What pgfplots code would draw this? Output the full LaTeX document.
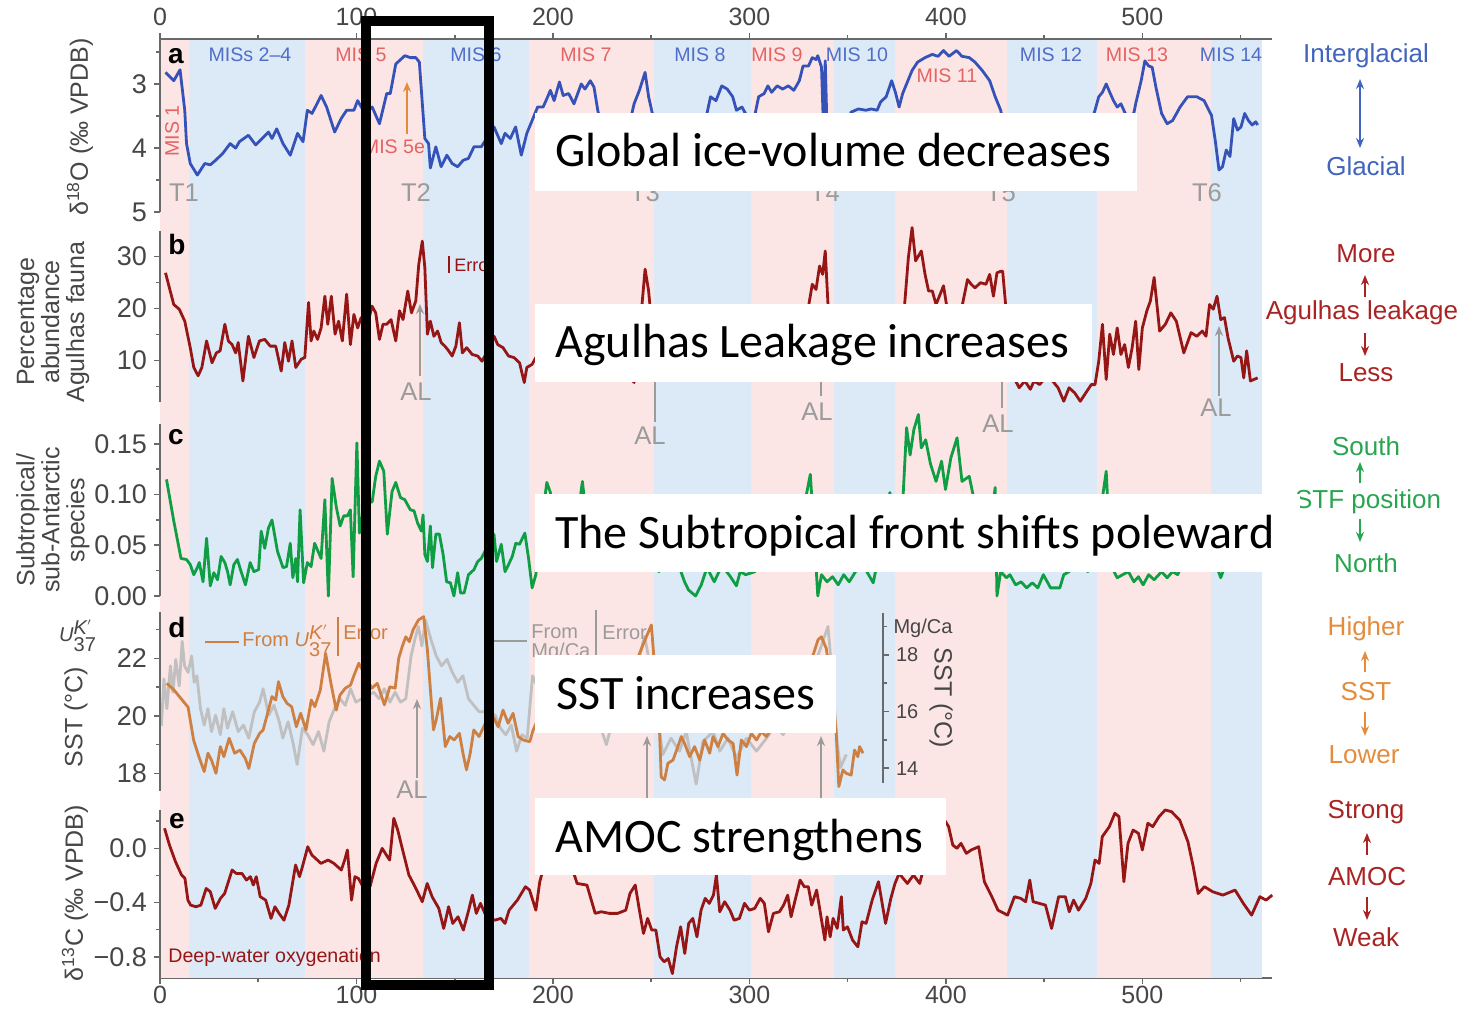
\documentclass[border=0pt]{standalone}
\usepackage{fontspec}
\setmainfont{Liberation Sans}
\newfontfamily\carlito{Carlito}
\usepackage{pgfplots}
\pgfplotsset{compat=1.18}
\usetikzlibrary{arrows.meta}

\definecolor{bandpink}{RGB}{252,229,229}
\definecolor{bandblue}{RGB}{220,233,247}
\definecolor{axgray}{RGB}{105,105,105}
\definecolor{tickgray}{RGB}{70,70,70}
\definecolor{iceblue}{RGB}{52,82,184}
\definecolor{darkred}{RGB}{150,22,22}
\definecolor{stfgreen}{RGB}{16,158,68}
\definecolor{sstorange}{RGB}{205,128,66}
\definecolor{mgcagray}{RGB}{192,192,192}
\definecolor{misblue}{RGB}{80,110,200}
\definecolor{misred}{RGB}{228,100,100}
\definecolor{labgray}{RGB}{155,155,155}
\definecolor{annblue}{RGB}{65,100,190}
\definecolor{annred}{RGB}{170,35,35}
\definecolor{anngreen}{RGB}{40,165,80}
\definecolor{annorange}{RGB}{228,140,60}

\newcommand{\fs}[1]{\fontsize{#1}{#1}\selectfont}

\pgfplotsset{
  panel/.style={
    scale only axis, width=556pt, xmin=0, xmax=566,
    anchor=center, clip=false, no markers,
    hide x axis, axis y line*=left,
    tick align=outside, major tick length=3pt, minor tick length=2pt,
    axis line style={draw=axgray, line width=0.8pt},
    every tick/.style={draw=axgray, line width=0.8pt},
    yticklabel style={font=\fs{13.5}, text=tickgray},
  },
  curve/.style={line width=1.4pt, line join=round},
}

\begin{document}
\begin{tikzpicture}
\useasboundingbox (0,0) rectangle (735pt,504pt);

% ---- background bands + bottom axis
\begin{axis}[scale only axis, width=556pt, height=469.5pt, at={(358pt,249.75pt)}, anchor=center,
  xmin=0, xmax=566, ymin=0, ymax=1, hide y axis, axis x line*=bottom,
  tick align=outside, major tick length=3pt, minor tick length=2pt,
  axis line style={draw=axgray, line width=0.8pt},
  every tick/.style={draw=axgray, line width=0.8pt},
  xtick={0,100,200,300,400,500}, xticklabels={0,100,200,300,400,500},
  minor xtick={50,150,250,350,450,550},
  xticklabel style={font=\fs{12.5}, text=tickgray, yshift=2.5pt}]
\addplot[fill=bandpink, draw=none] coordinates {(0,0) (0,1) (15,1) (15,0)};
\addplot[fill=bandblue, draw=none] coordinates {(15,0) (15,1) (74,1) (74,0)};
\addplot[fill=bandpink, draw=none] coordinates {(74,0) (74,1) (134,1) (134,0)};
\addplot[fill=bandblue, draw=none] coordinates {(134,0) (134,1) (188,1) (188,0)};
\addplot[fill=bandpink, draw=none] coordinates {(188,0) (188,1) (251.5,1) (251.5,0)};
\addplot[fill=bandblue, draw=none] coordinates {(251.5,0) (251.5,1) (301,1) (301,0)};
\addplot[fill=bandpink, draw=none] coordinates {(301,0) (301,1) (343,1) (343,0)};
\addplot[fill=bandblue, draw=none] coordinates {(343,0) (343,1) (374,1) (374,0)};
\addplot[fill=bandpink, draw=none] coordinates {(374,0) (374,1) (431,1) (431,0)};
\addplot[fill=bandblue, draw=none] coordinates {(431,0) (431,1) (477,1) (477,0)};
\addplot[fill=bandpink, draw=none] coordinates {(477,0) (477,1) (535,1) (535,0)};
\addplot[fill=bandblue, draw=none] coordinates {(535,0) (535,1) (561,1) (561,0)};
\end{axis}

% ---- top axis
\begin{axis}[scale only axis, width=556pt, height=469.5pt, at={(358pt,249.75pt)}, anchor=center,
  xmin=0, xmax=566, ymin=0, ymax=1, hide y axis, axis x line*=top,
  tick align=outside, major tick length=3pt, minor tick length=2pt,
  axis line style={draw=axgray, line width=0.8pt},
  every tick/.style={draw=axgray, line width=0.8pt},
  xtick={0,100,200,300,400,500}, xticklabels={0,100,200,300,400,500},
  minor xtick={50,150,250,350,450,550},
  xticklabel style={font=\fs{12.5}, text=tickgray}]
\end{axis}

% ---- annotations under the curves (pixel coordinates)
\begin{scope}[x=0.5pt, y=-0.5pt, yshift=504pt]
\begin{scope}[font=\fs{9.8}]
\node[misblue] at (250,55) {MISs 2–4};
\node[misred] at (361,55) {MIS 5};
\node[misblue] at (476,55) {MIS 6};
\node[misred] at (586,55) {MIS 7};
\node[misblue] at (700,55) {MIS 8};
\node[misred] at (777,55) {MIS 9};
\node[misblue] at (857,55) {MIS 10};
\node[misred] at (947,76) {MIS 11};
\node[misblue] at (1051,55) {MIS 12};
\node[misred] at (1137,55) {MIS 13};
\node[misblue] at (1231,55) {MIS 14};
\node[misred, rotate=90] at (172,131) {MIS 1};
\node[misred] at (394,147) {MIS 5e};
\end{scope}
\draw[annorange, line width=0.8pt, -{Stealth[length=5pt,width=4pt]}] (407,134) -- (407,82);
\begin{scope}[font=\fs{12.8}, labgray]
\node at (184,193) {T1};
\node at (416,193) {T2};
\node at (645,193) {T3};
\node at (825,193) {T4};
\node at (1001,193) {T5};
\node at (1207,193) {T6};
\node at (416,392) {AL};
\node at (650,436) {AL};
\node at (817,412) {AL};
\node at (998,424) {AL};
\node at (1216,408) {AL};
\node at (412,790) {AL};
\end{scope}
\begin{scope}[labgray, line width=1pt]
\draw[-{Stealth[length=5pt,width=4pt]}] (420,376) -- (420,304);
\draw (655,382) -- (655,422);
\draw (821,382) -- (821,396);
\draw (1002,372) -- (1002,408);
\draw[-{Stealth[length=5pt,width=4pt]}] (1219,396) -- (1219,326);
\draw[-{Stealth[length=5pt,width=4pt]}] (417,778) -- (417,699);
\draw[-{Stealth[length=5pt,width=4pt]}] (647,800) -- (647,736);
\draw[-{Stealth[length=5pt,width=4pt]}] (821,800) -- (821,736);
\end{scope}
\end{scope}

% ---- a: delta 18O
\begin{axis}[panel, at={(358pt,441.175pt)}, height=86.65pt, y dir=reverse,
  ymin=2.3, ymax=5.0, ytick={3,4,5}, minor ytick={2.5,3.5,4.5}, yticklabels={3,4,5}]
\addplot[curve, iceblue] coordinates {
(2.8,2.82) (7,2.95) (10.2,2.78) (12.6,3.41) (13.5,3.93) (15.4,4.24) (19,4.42) (22.8,4.24) (25.6,4.26) (28.3,4.19)
(32,4.08) (35.7,3.93) (38.5,4.0) (40.4,3.9) (45,3.8) (48.7,3.95) (55.2,3.75) (57,3.85) (59.4,3.7) (62.6,3.93)
(66.3,4.11) (70,3.77) (72.8,3.9) (75,3.41) (77.4,3.46) (82,3.18) (84.8,3.36) (88.9,3.75) (92.2,3.54) (95,3.41)
(98.7,3.41) (100.6,3.26) (104.3,3.46) (108,3.36) (111.7,3.62) (115.4,3.15) (117.2,3.15) (120,2.69) (124.6,2.56)
(127.4,2.59) (130.2,2.59) (132,2.66) (134.8,3.85) (136.7,3.93) (137.6,4.31) (140.4,3.98) (143.1,4.29) (146,4.11)
(148.7,4.24) (151.5,4.29) (154.3,4.19) (157,4.16) (159.8,3.98) (163.5,3.98) (168,3.77) (170,3.67) (173.7,3.93)
(175.6,3.77) (178.3,3.85) (181,3.67) (183.9,4.11) (186.7,3.77) (189.4,3.57) (192.2,3.36) (195,3.36) (196.9,3.23)
(198.7,3.1) (200.6,3.26) (203.3,2.97) (205.2,3.18) (208,3.15) (210.7,3.31) (214.4,3.0) (216.3,3.08) (219,2.95)
(220.9,3.05) (222.8,3.41) (226,3.8) (230,4.05) (234,3.95) (238,3.75) (241.3,3.31) (244,3.1) (246.9,2.82)
(248.7,3.2) (250.6,3.46) (254,3.9) (258,4.1) (263,4.0) (268,4.15) (273,3.9) (278.4,3.46) (280.2,3.2) (283,3.26)
(285.9,3.03) (288.7,3.08) (291.5,3.2) (293.4,3.41) (296.2,3.36) (298,3.46) (300,3.7) (302,3.6) (304.7,3.2)
(307.5,3.15) (309.4,3.03) (311.3,3.13) (314.1,3.03) (316.9,3.08) (319.8,3.03) (322.6,3.1) (325.4,2.95)
(327.3,2.72) (330.1,2.72) (332,2.59) (333.9,2.62) (334.8,2.56) (336.7,2.74) (337.6,3.6) (338.6,2.64) (339.5,3.7)
(342,4.0) (345,4.2) (348,4.0) (351.7,3.44) (355.5,3.39) (359.3,3.41) (362,3.39) (365,3.41) (366.8,3.28)
(369.6,3.2) (371.5,3.03) (372.4,2.95) (374.3,3.13) (376.2,3.36) (378,3.15) (380,3.0) (382.8,2.79) (385.6,2.66)
(389.4,2.59) (393.1,2.54) (396,2.57) (398.8,2.48) (401.6,2.57) (405.4,2.48) (408.2,2.57) (411.9,2.59)
(414.8,2.66) (418.5,2.79) (422.3,2.95) (425.1,3.2) (427.9,3.41) (431,3.9) (436,4.2) (442,4.35) (448,4.3)
(455,4.4) (462,4.25) (468,4.1) (472,3.8) (475.9,3.41) (477.8,3.2) (479.7,3.13) (481.6,3.0) (483.4,3.13)
(485.3,3.26) (487.2,3.36) (489.1,3.31) (491,3.44) (493,3.55) (495.7,3.45) (496.6,3.31) (499.4,2.95) (501.3,2.64)
(503.2,2.72) (505,2.74) (506.9,3.05) (509.8,3.46) (512.6,3.62) (515.4,3.57) (519.2,3.36) (523,3.2) (527.7,3.2)
(531.4,3.26) (535.2,3.49) (537.1,3.88) (539,4.34) (540.8,4.29) (542.7,4.03) (544.6,4.13) (546.5,3.54)
(548.4,3.72) (550.2,3.67) (552.1,3.46) (554,3.57) (555.9,3.64) (557.7,3.59) (558.7,3.64)
};
\end{axis}

% ---- b: Agulhas fauna
\begin{axis}[panel, at={(358pt,345.75pt)}, height=85.8pt,
  ymin=2, ymax=35, ytick={10,20,30}, minor ytick={5,15,25}, yticklabels={10,20,30}]
\addplot[curve, darkred] coordinates {
(2.8,26.9) (7,20.8) (9.8,19.9) (12.6,17.6) (15.4,12.5) (17.2,8.7) (19.4,7.1) (21.3,8.7) (23.7,13.8) (26.5,9.6)
(28.7,11.5) (30.6,11.9) (33,17.0) (34.8,13.8) (36.7,13.1) (38.5,11.5) (39.8,13.5) (42.2,6.1) (45,14.7) (47.8,10.6)
(50.6,13.8) (53.3,14.1) (56.1,12.8) (58.9,12.8) (61.7,8.0) (63.5,13.5) (65.4,9.9) (67.2,13.8) (69.1,8.7)
(71.9,10.3) (73.7,10.6) (75.6,21.2) (76.9,13.8) (78.3,15.7) (80.2,14.1) (82,16.3) (83.9,22.4) (85.4,17.0)
(87.2,22.4) (89.1,15.1) (90.9,17.6) (92.8,13.8) (95,22.8) (96.9,13.1) (98.7,18.9) (100.6,16.3) (102.4,18.3)
(105,16) (107.9,20.5) (109.8,19.2) (111.7,14.1) (113.5,17.0) (115.4,17.0) (117.6,17.9) (120,13.8) (121.9,19.6)
(123.7,17.9) (126.1,23.4) (128,19.2) (130.2,21.5) (131.7,28.5) (133.5,33.0) (134.8,27.9) (136.1,15.1)
(137.6,17.6) (139.4,14.7) (141.3,15.7) (143.1,13.5) (145,12.8) (146.9,11.9) (148.7,10.9) (150.6,12.8)
(152.4,17.3) (153.9,11.5) (156.1,12.5) (158.9,11.2) (161.7,10.9) (163.9,9.9) (167,12) (170,14.7) (171.9,13.1)
(174.6,12.5) (177.4,10.9) (180.2,10.6) (183,9.6) (185.4,5.8) (186.7,8.7) (189.4,9.3) (191.3,10.6) (196,12)
(202,11) (208,13) (215,10) (222,12) (230,9) (237,8) (241.3,5.8) (244,15) (246.9,27.6) (248.7,23.4) (251,14)
(256,11) (262,12) (266,17) (270,11) (276,13) (282,10) (288,12) (294,11) (300,13) (306,10) (312,12) (318,11)
(324,14) (329,18) (332,24.7) (333.9,23.7) (335.7,28.2) (337.3,26.6) (338.6,31.1) (340,20.8) (343,12) (348,10)
(354,12) (360,10) (366,13) (372,12) (376,16) (379,20.8) (380.9,29.8) (382.8,35.6) (384.6,29.2) (387.5,31.1)
(389.4,26.6) (391.2,23.4) (393.1,23.4) (395,20.8) (398.8,24.4) (400.3,20.8) (404,18) (408,20) (411,25.6)
(412.9,24.7) (414.8,24.0) (417.6,25.0) (420.4,24.7) (422.3,26.6) (424.2,22.4) (426,26.9) (427.9,27.2)
(428.9,27.2) (430.4,20.8) (432.5,12) (435.5,6.1) (437.3,4.8) (440.2,6.1) (443,4.5) (444.9,6.1) (447.7,5.4)
(450.5,6.7) (454.3,6.1) (457.1,4.8) (460,2.2) (462.7,4.8) (465.6,3.8) (468.4,2.2) (471.2,3.8) (474,5.4)
(475.9,5.4) (477.8,9.9) (479.7,17.0) (481.6,6.4) (483.4,15.1) (485.3,11.2) (487.2,16.3) (489.1,11.2) (491,13.1)
(492.9,8.7) (494.8,12.5) (496.6,17.6) (498.2,8.3) (500,16.3) (502.3,19.6) (504.1,21.5) (506,26.0) (508.8,15.7)
(511.7,17.0) (514.5,19.2) (517.3,17.6) (521.1,11.5) (524.8,15.4) (527.7,14.7) (530.5,15.7) (532.4,14.7)
(534.2,20.8) (536.1,19.9) (538,22.4) (539.9,17.9) (541.8,18.3) (543.6,14.4) (546.5,9.9) (548.4,10.9)
(550.2,10.6) (551.6,6.7) (553.1,11.9) (555,6.1) (558.7,6.7)
};
\end{axis}

% ---- c: subtropical / sub-Antarctic
\begin{axis}[panel, at={(358pt,249.1pt)}, height=86.2pt,
  ymin=0, ymax=0.17, ytick={0,0.05,0.1,0.15}, minor ytick={0.025,0.075,0.125},
  yticklabels={0.00,0.05,0.10,0.15}]
\addplot[curve, stfgreen] coordinates {
(3.3,0.115) (7,0.074) (10.7,0.037) (13.5,0.036) (15.4,0.031) (17.2,0.021) (19,0.028) (20,0.033) (21.9,0.014)
(23.7,0.057) (25.6,0.010) (27.4,0.023) (29.3,0.016) (31.1,0.039) (33,0.033) (34.4,0.024) (35.7,0.011)
(37.6,0.031) (39.4,0.036) (41.3,0.024) (43.5,0.011) (45.9,0.033) (47.8,0.024) (50.2,0.026) (51.5,0.064)
(53.3,0.047) (55.2,0.067) (57,0.075) (59.8,0.044) (62.6,0.028) (64.4,0.029) (66.3,0.052) (67.6,0.018)
(69.1,0.037) (70,0.014) (71.3,0.085) (73.1,0.013) (75,0.033) (76.9,0.029) (78.7,0.052) (82,0.037) (83.9,0.095)
(85.7,0.0) (87.6,0.116) (89.8,0.087) (91.7,0.069) (93.5,0.079) (95.4,0.079) (96.9,0.085) (98.3,0.019)
(100.2,0.151) (101.5,0.062) (104,0.09) (108,0.093) (109.8,0.118) (111.7,0.133) (113.9,0.123) (115.7,0.061)
(118.1,0.103) (120,0.112) (122.4,0.097) (124.6,0.095) (127.4,0.085) (129.3,0.084) (131.1,0.072) (133,0.064)
(133.9,0.080) (134.8,0.041) (136.1,0.034) (137.6,0.069) (138.7,0.028) (140.4,0.061) (142.2,0.061)
(144.1,0.041) (145.9,0.014) (147.8,0.013) (149.6,0.0) (151.5,0.023) (153,0.003) (154.8,0.003) (157,0.021)
(159.8,0.026) (161.7,0.034) (163.5,0.037) (167,0.05) (170,0.061) (171.3,0.034) (173.7,0.051) (175.6,0.024)
(177.4,0.031) (179.3,0.039) (181.1,0.052) (183,0.051) (185.7,0.062) (187.6,0.037) (189.4,0.008) (191.3,0.021)
(194,0.07) (196.9,0.112) (198.7,0.102) (202,0.06) (207,0.04) (212,0.07) (215,0.113) (218,0.06) (224,0.04)
(230,0.05) (236,0.03) (242,0.06) (248,0.04) (254,0.024) (260,0.05) (264,0.03) (267,0.014) (269,0.006)
(272.6,0.0) (275.5,0.011) (278.4,0.028) (282.1,0.014) (286,0.03) (290,0.02) (293.4,0.010) (295.3,0.024)
(298.1,0.021) (302.8,0.024) (308,0.04) (314,0.03) (320,0.05) (326,0.07) (331,0.120) (333,0.06) (334.8,0.0)
(336.7,0.021) (339.5,0.014) (342.3,0.019) (345.2,0.011) (348,0.021) (350.8,0.014) (354,0.024) (358,0.03)
(363,0.013) (368,0.06) (371.5,0.102) (375.3,0.05) (378,0.09) (380,0.166) (381.8,0.139) (383.7,0.164)
(386,0.179) (387.5,0.146) (389.7,0.154) (392.2,0.130) (395,0.113) (397.8,0.133) (399.8,0.105) (402.5,0.136)
(405.7,0.156) (408.2,0.113) (411.9,0.118) (413.8,0.100) (418,0.07) (422,0.06) (425.1,0.107) (426,0.0)
(427.9,0.024) (430.8,0.018) (432.6,0.021) (435.5,0.011) (438.3,0.014) (441.1,0.008) (444,0.013) (446.8,0.008)
(449.6,0.021) (453.3,0.008) (458,0.008) (460,0.021) (462.7,0.024) (467,0.04) (472.2,0.024) (477,0.06)
(481.6,0.123) (484,0.03) (487.2,0.018) (490,0.021) (492.9,0.024) (495.7,0.014) (498,0.019) (500.4,0.011)
(503.2,0.021) (506,0.016) (509.8,0.024) (512.6,0.018) (515.4,0.024) (518,0.021) (522,0.04) (528,0.03)
(534,0.05) (539.9,0.018) (541,0.024)
};
\end{axis}

% ---- d: SST from Mg/Ca (grey, right scale)
\begin{axis}[scale only axis, width=556pt, height=89.15pt, at={(358pt,153.275pt)}, anchor=center,
  xmin=0, xmax=566, ymin=13.21, ymax=19.50, hide x axis, hide y axis, clip=false, no markers]
\addplot[line width=1.4pt, line join=round, mgcagray] coordinates {
(0.7,15.5) (2,17.15) (3.5,16.1) (5.3,17.61) (6.6,16.68) (8,17.84) (9.8,16.9) (11.3,18.48) (12.5,17.61)
(14.3,17.38) (16.1,17.96) (17.4,17.03) (18.8,17.26) (20.6,16.1) (22.5,15.52) (24.4,16.1) (26.2,15.29)
(28.3,15.87) (30.7,15.18) (32.5,16.1) (34.3,15.41) (37,15.99) (39.8,15.29) (42.5,15.52) (45.2,15.06)
(48,15.99) (50.7,16.33) (52.5,16.8) (55.3,15.87) (58,16.22) (60.7,15.64) (62.5,15.06) (65.2,15.64)
(67.9,14.83) (69.8,14.13) (72.5,15.41) (75.2,15.18) (77.9,14.83) (80.7,15.29) (83.4,14.6) (86.1,15.64)
(88.8,16.1) (91.6,16.45) (94.3,16.22) (97,16.8) (99.7,16.33) (104,16.5) (108.8,16.68) (111.5,16.45)
(114.2,16.8) (117,16.33) (119.7,16.68) (122.4,16.33) (125.1,16.45) (127.8,17.96) (129.7,18.54) (131.5,19.0)
(133.3,18.31) (135.1,19.23) (137.9,18.54) (140.6,17.96) (143.3,17.61) (146.1,17.84) (148.8,17.38)
(151.5,17.03) (154.2,17.26) (157,16.45) (159.7,16.22) (162.4,15.99) (166,16.0) (170.6,15.87) (173.3,15.41)
(176,15.18) (178.8,15.52) (181.5,14.6) (184.2,15.18) (186.9,15.06) (189.6,17.26) (195,16.4) (202,15.9)
(210,16.5) (218,15.9) (224,15.5) (227.2,14.83) (232,16.1) (240,16.9) (246.7,18.65) (250,17.4) (255.9,14.48)
(260.1,15.06) (264.4,14.6) (267.8,15.29) (272.9,13.44) (276.3,14.94) (281.5,15.29) (284.9,14.6) (289.1,15.06)
(293.4,14.36) (298.5,15.06) (303.6,14.6) (308.7,15.06) (313,15.5) (317.2,15.18) (324,16.4) (332,17.4)
(340,19.0) (342,17.4) (344.6,14.94) (346.3,14.02) (349.3,14.48)
};
\end{axis}

% ---- d: SST from UK'37 (orange, left scale)
\begin{axis}[panel, at={(358pt,153.275pt)}, height=89.15pt,
  ymin=17.4, ymax=23.6, ytick={18,20,22}, minor ytick={19,21,23}, yticklabels={18,20,22}]
\addplot[curve, sstorange] coordinates {
(3.5,21.13) (7.1,20.9) (10.7,20.6) (14.3,20.3) (17.1,19.16) (19.8,18.58) (22.5,18.06) (24.4,18.7) (26.2,18.46)
(28.5,18.0) (30.7,18.93) (32.5,18.58) (35.2,19.22) (38,18.7) (40.7,18.81) (43.4,18.52) (45.2,18.17) (48,19.04)
(50.7,19.39) (52.5,19.51) (54.3,19.97) (57,20.67) (58.9,20.55) (60.3,21.19) (62.5,20.67) (64.7,20.43)
(67,20.32) (69.4,19.62) (71.6,20.09) (74.3,19.51) (77,20.55) (78.8,20.32) (81.6,20.9) (84.3,22.17) (87,21.13)
(89.7,20.2) (91.6,20.72) (94.3,20.96) (97,21.07) (98.8,21.42) (101.2,21.83) (104.5,21.4) (107.8,20.96)
(110.6,21.13) (114.2,20.38) (117,21.01) (119.7,20.96) (121.5,22.0) (123.3,22.41) (125.1,22.75) (126.9,22.58)
(128.8,22.99) (131.5,23.33) (134.2,23.45) (136.1,22.29) (137.9,20.67) (139.2,19.51) (140.6,19.86)
(142.8,20.61) (145.2,18.93) (147.5,19.28) (149.7,19.16) (152.4,19.39) (154.2,18.7) (156,18.12) (157.9,18.7)
(159.7,19.51) (162.4,19.28) (166,19.8) (169.5,19.97) (172.1,19.62) (174.6,20.2) (177.2,19.74) (179.7,20.09)
(182.3,19.28) (184.8,19.16) (188.2,19.1) (189.9,19.5) (195,20.3) (200,20.8) (206,20.2) (212,20.9) (218,20.4)
(224,21.0) (230,20.6) (236,21.3) (242,21.8) (246,22.5) (250.1,23.16) (252,21.5) (254.3,19.39) (255.1,17.88)
(256.8,17.77) (258.5,18.35) (261.1,18.46) (263.6,18.93) (265.3,19.28) (267,19.04) (269.6,18.58) (272.1,18.93)
(274.7,18.46) (277.2,19.16) (279.8,18.7) (281.5,19.28) (284,18.93) (286.6,19.39) (289.1,19.16) (291.7,19.04)
(293.7,17.94) (295.9,19.16) (298.5,18.93) (301,19.39) (303.6,19.16) (306.1,19.45) (308.7,19.28) (313,19.8)
(318,20.4) (324,20.9) (330,21.6) (334.9,22.64) (336.6,22.75) (339.1,22.35) (342,21) (344.2,19.39)
(345.5,17.54) (347.6,18.12) (349.3,18.0) (351.8,17.94) (353.5,18.81) (355.2,18.58) (356.1,18.93) (357.8,18.7)
};
\end{axis}

% ---- d: Mg/Ca scale drawn inside the panel
\begin{axis}[scale only axis, width=2pt, height=85pt, at={(440.5pt,155pt)}, anchor=center,
  xmin=0, xmax=1, ymin=13.48, ymax=19.48, hide x axis, axis y line*=right,
  tick align=outside, major tick length=3pt, minor tick length=2pt,
  axis line style={draw=axgray, line width=0.8pt},
  every tick/.style={draw=axgray, line width=0.8pt},
  ytick={14,16,18}, minor ytick={15,17,19}, yticklabels={14,16,18},
  yticklabel style={font=\fs{10}, text=tickgray}]
\end{axis}

% ---- e: delta 13C
\begin{axis}[panel, at={(358pt,56.725pt)}, height=84.15pt,
  ymin=-0.962, ymax=0.28, ytick={-0.8,-0.4,0}, minor ytick={-0.6,-0.2,0.2},
  yticklabels={−0.8,−0.4,0.0}]
\addplot[curve, darkred] coordinates {
(2.3,0.148) (4.8,0.025) (7.9,-0.099) (11,-0.197) (12.7,-0.222) (14.2,-0.382) (15.6,-0.419) (18.3,-0.431)
(20.8,-0.419) (23.5,-0.296) (25.6,-0.32) (28.1,-0.443) (30.8,-0.369) (32.9,-0.333) (36.7,-0.16) (38.8,-0.185)
(41.7,-0.185) (44,-0.234) (46,-0.209) (47.5,-0.271) (49,-0.209) (51,-0.357) (53.8,-0.382) (56.5,-0.517)
(58.5,-0.431) (60.6,-0.48) (63.1,-0.53) (65.6,-0.419) (69,-0.123) (71,-0.209) (72.5,-0.135) (75.2,0.012)
(77.3,-0.049) (81.9,-0.111) (85.6,-0.086) (88.5,-0.111) (92.3,-0.16) (94,-0.086) (95.4,-0.012) (97.5,-0.382)
(99.2,-0.209) (101,-0.222) (104,-0.3) (106.9,-0.283) (110,-0.111) (113.1,0.0) (115.2,-0.049) (116.9,-0.086)
(119,0.222) (121,0.135) (123.5,-0.012) (126.7,-0.197) (129.8,-0.283) (133.5,-0.394) (136,-0.259)
(138.5,-0.357) (141.9,-0.443) (144.4,-0.591) (146.9,-0.431) (149,-0.554) (151.7,-0.505) (154.4,-0.603)
(156.9,-0.468) (159,-0.345) (161,-0.48) (163.1,-0.406) (166,-0.5) (170.4,-0.53) (173.5,-0.517) (175.6,-0.554)
(177.7,-0.456) (181.9,-0.382) (186,-0.283) (188.1,-0.308) (191.3,-0.456) (193.3,-0.246) (195.4,-0.135)
(199,0.05) (203,0.1) (206,0.0) (209,-0.111) (212.3,-0.259) (217.3,-0.271) (221.5,-0.48) (224.6,-0.468)
(228.8,-0.48) (232.9,-0.48) (237.1,-0.456) (239.2,-0.333) (241.9,-0.271) (244,-0.456) (246.1,-0.628)
(248.2,-0.517) (250.3,-0.603) (252.4,-0.603) (254.5,-0.8) (256.6,-0.837) (258.7,-0.813) (260.8,-0.924)
(262.9,-0.727) (265,-0.579) (267.1,-0.776) (269.1,-0.554) (271.2,-0.517) (273.3,-0.653) (275.4,-0.456)
(277.5,-0.369) (279.6,-0.406) (281.7,-0.345) (283.2,-0.197) (284.9,-0.468) (287.4,-0.394) (290.1,-0.456)
(292.2,-0.53) (294.9,-0.517) (297.5,-0.406) (300,-0.456) (302.7,-0.443) (305.5,-0.369) (307.6,-0.406)
(309.7,-0.616) (312.2,-0.48) (315.3,-0.468) (317.4,-0.419) (319.5,-0.345) (321.2,-0.505) (323.7,-0.357)
(325.8,-0.234) (327.9,-0.283) (330,-0.283) (331.7,-0.419) (334.2,-0.308) (336.3,-0.493) (338.4,-0.677)
(339.5,-0.505) (341.1,-0.653) (342.6,-0.517) (344.7,-0.591) (346.8,-0.357) (347.8,-0.603) (349.9,-0.579)
(352.5,-0.677) (355.2,-0.727) (357.3,-0.542) (359.4,-0.554) (362.5,-0.382) (365.7,-0.246) (369.3,-0.554)
(372,-0.369) (374.1,-0.259) (376.2,-0.185) (380.4,-0.259) (383.5,-0.197) (386.7,-0.259) (388.8,-0.135)
(393,0.0) (396,0.1) (399.3,0.209) (401.4,0.16) (403.5,0.025) (405.6,0.0) (407.7,0.037) (410.4,-0.037)
(412.9,-0.012) (416.7,0.012) (419.6,-0.246) (423.4,-0.357) (426.5,-0.456) (431.4,-0.493) (434.9,-0.357)
(438.1,-0.369) (440.6,-0.394) (442.7,-0.234) (444.4,-0.394) (447.5,-0.406) (450.7,-0.419) (453.8,-0.591)
(457.4,-0.357) (460.8,-0.357) (462.8,-0.468) (465,-0.382) (467.5,-0.456) (471.2,-0.369) (473.8,-0.259)
(475.9,-0.086) (478,-0.111) (479.6,0.086) (483.2,0.16) (486,0.259) (488.1,0.234) (490.6,-0.246) (492.7,0.037)
(495.3,0.135) (498,0.111) (500,-0.012) (502.8,0.185) (505.3,0.16) (508.5,0.234) (511.6,0.283) (514.8,0.271)
(519,0.209) (523.2,0.049) (525.9,-0.135) (528.4,-0.333) (531.6,-0.283) (535.8,-0.32) (541,-0.345)
(547.2,-0.308) (551.4,-0.406) (555.6,-0.493) (559.8,-0.357) (563,-0.382) (566.1,-0.345)
};
\end{axis}

% ---- labels, legends, overlay boxes (pixel coordinates)
\begin{scope}[x=0.5pt, y=-0.5pt, yshift=504pt]
% panel letters
\begin{scope}[font=\bfseries\fs{14}]
\node at (176,56) {a};
\node at (177,244) {b};
\node at (176,437) {c};
\node at (177,627) {d};
\node at (177,821) {e};
\end{scope}
% y-axis titles
\begin{scope}[font=\fs{12.5}, text=tickgray]
\node[rotate=90] at (80,127) {δ\textsuperscript{18}O (‰ VPDB)};
\node[rotate=90, align=center, text width=200pt] at (53,322) {Percentage\\abundance\\Agulhas fauna};
\node[rotate=90, align=center, text width=200pt] at (53,520) {Subtropical/\\sub-Antarctic\\species};
\node[rotate=90] at (76,717) {SST (°C)};
\node[rotate=90] at (75,893) {δ\textsuperscript{13}C (‰ VPDB)};
\node[font=\fs{10}] at (78,636) {\textit{U}$^{\textit{K}'}_{\textrm{37}}$};
\end{scope}
% panel b error
\draw[darkred, line width=0.9pt] (449,256) -- (449,273);
\node[darkred, font=\fs{9}, anchor=west, inner sep=0] at (454,265) {Error};
% panel d legend
\draw[sstorange, line width=1pt] (205,642) -- (239,642);
\node[sstorange, font=\fs{10}, anchor=west, inner sep=0] at (242,641) {From \textit{U}$^{\textit{K}'}_{\textrm{37}}$};
\draw[sstorange, line width=1pt] (338,617) -- (338,656);
\node[sstorange, font=\fs{10}, anchor=west, inner sep=0] at (343,633) {Error};
\draw[labgray, line width=1pt] (494,641) -- (527,641);
\node[labgray, font=\fs{10}, anchor=west, inner sep=0] at (531,632) {From};
\node[labgray, font=\fs{10}, anchor=west, inner sep=0] at (531,652) {Mg/Ca};
\draw[labgray, line width=1pt] (596,610) -- (596,658);
\node[labgray, font=\fs{10}, anchor=west, inner sep=0] at (602,633) {Error};
\node[tickgray, font=\fs{10}] at (923,628) {Mg/Ca};
\node[tickgray, font=\fs{12.5}, rotate=-90] at (941,698) {SST (°C)};
% panel e label
\node[darkred, font=\fs{9.8}, anchor=west, inner sep=0] at (168,957) {Deep-water oxygenation};
% right-hand annotations
\begin{scope}[font=\fs{13}]
\node[annblue] at (1366,56) {Interglacial};
\node[annblue] at (1366,166) {Glacial};
\node[annred] at (1366,254) {More};
\node[annred] at (1362,313) {Agulhas leakage};
\node[annred] at (1366,373) {Less};
\node[anngreen] at (1366,446) {South};
\node[anngreen] at (1368,502) {STF position};
\node[anngreen] at (1366,563) {North};
\node[annorange] at (1366,629) {Higher};
\node[annorange] at (1366,692) {SST};
\node[annorange] at (1364,755) {Lower};
\node[annred] at (1366,812) {Strong};
\node[annred] at (1367,877) {AMOC};
\node[annred] at (1366,937) {Weak};
\end{scope}
\begin{scope}[line width=0.8pt]
\draw[annblue, {Stealth[length=5pt,width=4pt]}-{Stealth[length=5pt,width=4pt]}] (1360,79) -- (1360,148);
\draw[annred, -{Stealth[length=5pt,width=4pt]}] (1365,297) -- (1365,275);
\draw[annred, -{Stealth[length=5pt,width=4pt]}] (1365,333) -- (1365,356);
\draw[anngreen, -{Stealth[length=5pt,width=4pt]}] (1360,483) -- (1360,462);
\draw[anngreen, -{Stealth[length=5pt,width=4pt]}] (1360,519) -- (1360,542);
\draw[annorange, -{Stealth[length=5pt,width=4pt]}] (1365,672) -- (1365,651);
\draw[annorange, -{Stealth[length=5pt,width=4pt]}] (1365,712) -- (1365,736);
\draw[annred, -{Stealth[length=5pt,width=4pt]}] (1367,855) -- (1367,833);
\draw[annred, -{Stealth[length=5pt,width=4pt]}] (1367,897) -- (1367,920);
\end{scope}
% overlay boxes
\fill[white] (535,113) rectangle (1137,191);
\fill[white] (535,304) rectangle (1092,382);
\fill[white] (535,494) rectangle (1300,572);
\fill[white] (535,655) rectangle (836,733);
\fill[white] (535,798) rectangle (946,875);
\begin{scope}[font=\carlito\fs{24}, inner sep=0]
\node[anchor=base west] at (555,167) {Global ice-volume decreases};
\node[anchor=base west] at (555,358) {Agulhas Leakage increases};
\node[anchor=base west] at (555,548) {The Subtropical front shifts poleward};
\node[anchor=base west] at (556,709) {SST increases};
\node[anchor=base west] at (555,852) {AMOC strengthens};
\end{scope}
\draw[black, line width=5pt] (366,21) rectangle (488.5,985);
\end{scope}
\end{tikzpicture}
\end{document}
